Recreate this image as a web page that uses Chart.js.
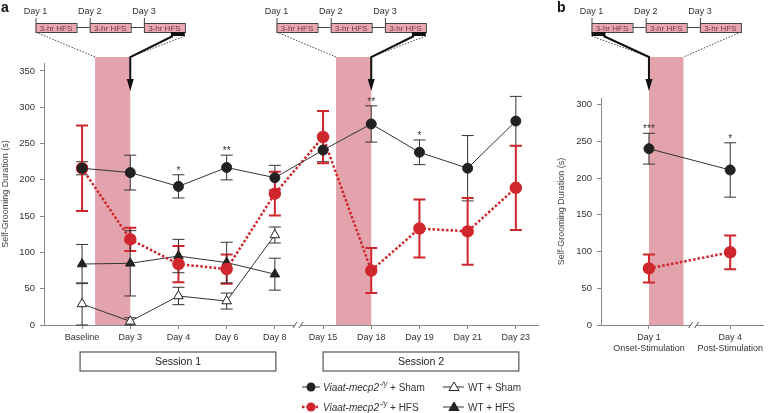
<!DOCTYPE html>
<html>
<head>
<meta charset="utf-8">
<script src="https://cdn.jsdelivr.net/npm/chart.js@4.4.0/dist/chart.umd.min.js"></script>
<style>
  html, body { margin: 0; padding: 0; background: #fff; }
  #wrap { position: relative; width: 771px; height: 413px; }
  #wrap canvas { position: absolute; left: 0; top: 0; }
</style>
</head>
<body>
<div id="wrap">
  <canvas id="chartA" width="771" height="413"></canvas>
  <canvas id="chartB" width="771" height="413"></canvas>
</div>
<script>
// panel a data
const daysA = ['Baseline', 'Day 3', 'Day 4', 'Day 6', 'Day 8', 'Day 15', 'Day 18', 'Day 19', 'Day 21', 'Day 23'];
const koShamA = [216, 210, 191, 217, 203, 241, 277, 238, 216, 281];
const koShamErrA = [9, 24, 16, 17, 17, 16, 25, 17, 45, 34];
const koHfsA = [216, 118, 84, 77, 181, 259, 75, 133, 129, 189];
const koHfsErrA = [59, 16, 25, 20, 30, 36, 31, 40, 46, 58];
const wtShamA = [29, 5, 40, 33, 124];
const wtShamErrA = [29, 5, 12, 11, 11];
const wtHfsA = [84, 85, 95, 86, 70];
const wtHfsErrA = [27, 45, 23, 28, 22];
const starsA = ['', '', '*', '**', '', '', '**', '*', '', ''];
const bandsA = [[0.27, 1], [5.27, 6]];

// panel b data
const daysB = [['Day 1', 'Onset-Stimulation'], ['Day 4', 'Post-Stimulation']];
const koShamB = [240, 211];
const koShamErrB = [21, 37];
const koHfsB = [77, 99];
const koHfsErrB = [19, 23];
const starsB = ['***', '*'];
const bandsB = [[0, 0.425]];

const yTicks = [0, 50, 100, 150, 200, 250, 300, 350];

const FONT = '"Liberation Sans", Arial, Helvetica, sans-serif';
const RED = '#d0262d';
const DARK = '#222';
const PINK = '#e3a3ad';
Chart.defaults.font.family = FONT;
Chart.defaults.color = '#333';

const pts = arr => arr.map((v, i) => ({ x: i, y: v }));

function koSham(data, err) {
  return { data: pts(data), err, errColor: '#333', errWidth: 1,
    borderColor: '#333', borderWidth: 1, pointRadius: 5, pointStyle: 'circle',
    pointBackgroundColor: DARK, pointBorderColor: DARK };
}
function koHfs(data, err) {
  return { data: pts(data), err, errColor: RED, errWidth: 2,
    borderColor: RED, borderWidth: 2.5, borderDash: [2.5, 2], pointRadius: 5, pointStyle: 'circle',
    pointBackgroundColor: RED, pointBorderColor: RED };
}
function wt(data, err, open) {
  return { data: pts(data), err, errColor: '#333', errWidth: 1,
    borderColor: '#333', borderWidth: 1, pointRadius: 5.5, pointStyle: 'triangle',
    pointBackgroundColor: open ? '#fff' : DARK, pointBorderColor: DARK, pointBorderWidth: 1 };
}

// bands + error bars, behind the lines
const behind = {
  id: 'behind',
  beforeDatasetsDraw(chart, args, opts) {
    const ctx = chart.ctx, xs = chart.scales.x, ys = chart.scales.y;
    ctx.save();
    ctx.fillStyle = PINK;
    opts.bands.forEach(b => {
      const l = xs.getPixelForValue(b[0]), r = xs.getPixelForValue(b[1]);
      ctx.fillRect(l, 57, r - l, chart.chartArea.bottom - 57);
    });
    chart.data.datasets.forEach((ds, di) => {
      const meta = chart.getDatasetMeta(di);
      ctx.strokeStyle = ds.errColor;
      ctx.lineWidth = ds.errWidth;
      meta.data.forEach((pt, i) => {
        const v = ds.data[i].y, e = ds.err[i];
        const top = ys.getPixelForValue(v + e), bot = ys.getPixelForValue(Math.max(0, v - e));
        ctx.beginPath();
        ctx.moveTo(pt.x, top); ctx.lineTo(pt.x, bot);
        ctx.moveTo(pt.x - 6, top); ctx.lineTo(pt.x + 6, top);
        ctx.moveTo(pt.x - 6, bot); ctx.lineTo(pt.x + 6, bot);
        ctx.stroke();
      });
    });
    ctx.restore();
  }
};

function drawSchedule(ctx, x0, markAtEnd, bandL, bandR) {
  const step = 54.2, bw = 41, by = 23, bh = 9, top = 57;
  ctx.save();
  ctx.textAlign = 'center';
  ctx.textBaseline = 'middle';
  ctx.strokeStyle = '#444';
  ctx.lineWidth = 1;
  for (let d = 0; d < 3; d++) {
    const bx = x0 + d * step;
    ctx.fillStyle = '#333';
    ctx.font = '9px ' + FONT;
    ctx.fillText('Day ' + (d + 1), bx, 11.5);
    ctx.beginPath(); ctx.moveTo(bx + 0.5, 18); ctx.lineTo(bx + 0.5, by); ctx.stroke();
    ctx.fillStyle = '#e8a7b1';
    ctx.fillRect(bx, by, bw, bh);
    ctx.strokeRect(bx + 0.5, by + 0.5, bw, bh);
    ctx.fillStyle = '#6a3a40';
    ctx.font = '8px ' + FONT;
    ctx.fillText('3-hr HFS', bx + bw / 2, by + bh / 2 + 1);
    if (d < 2) {
      ctx.beginPath(); ctx.moveTo(bx + bw, 27.5); ctx.lineTo(bx + step, 27.5); ctx.stroke();
    }
  }
  const xEnd = x0 + 2 * step + bw;
  const mx = markAtEnd ? xEnd - 14 : x0;
  ctx.fillStyle = '#111';
  ctx.fillRect(mx, by + bh, 14, 4);
  ctx.setLineDash([1.5, 1.5]);
  ctx.strokeStyle = '#444';
  ctx.beginPath();
  ctx.moveTo(x0, by + bh + (markAtEnd ? 0 : 4)); ctx.lineTo(bandL, top);
  ctx.moveTo(xEnd, by + bh + (markAtEnd ? 4 : 0)); ctx.lineTo(bandR, top);
  ctx.stroke();
  ctx.setLineDash([]);
  const ax = markAtEnd ? bandR : bandL;
  ctx.strokeStyle = '#111';
  ctx.lineWidth = 2;
  ctx.beginPath();
  ctx.moveTo(markAtEnd ? mx + 2 : mx + 12, by + bh + 4);
  ctx.lineTo(ax, top);
  ctx.lineTo(ax, top + 24);
  ctx.stroke();
  ctx.fillStyle = '#111';
  ctx.beginPath();
  ctx.moveTo(ax - 3.5, top + 22); ctx.lineTo(ax + 3.5, top + 22); ctx.lineTo(ax, top + 34);
  ctx.closePath(); ctx.fill();
  ctx.restore();
}

function drawBreak(ctx, x, y) {
  ctx.save();
  ctx.fillStyle = '#fff';
  ctx.fillRect(x - 3, y - 2, 6, 4);
  ctx.strokeStyle = '#555';
  ctx.lineWidth = 1;
  ctx.beginPath();
  ctx.moveTo(x - 5, y + 3); ctx.lineTo(x - 1, y - 3);
  ctx.moveTo(x + 1, y + 3); ctx.lineTo(x + 5, y - 3);
  ctx.stroke();
  ctx.restore();
}

function drawStars(chart, stars) {
  const ctx = chart.ctx, ys = chart.scales.y, ds = chart.data.datasets[0];
  const meta = chart.getDatasetMeta(0);
  ctx.save();
  ctx.font = '10px ' + FONT;
  ctx.fillStyle = '#333';
  ctx.textAlign = 'center';
  ctx.textBaseline = 'alphabetic';
  stars.forEach((s, i) => {
    if (!s) return;
    const capY = ys.getPixelForValue(ds.data[i].y + ds.err[i]);
    ctx.fillText(s, meta.data[i].x, capY - 1);
  });
  ctx.restore();
}

function koLabel(ctx, x, y, tail) {
  ctx.font = 'italic 10px ' + FONT;
  ctx.fillText('Viaat-mecp2', x, y);
  let w = ctx.measureText('Viaat-mecp2').width;
  ctx.font = 'italic 7px ' + FONT;
  ctx.fillText('-/y', x + w + 0.5, y - 4);
  w += ctx.measureText('-/y').width + 0.5;
  ctx.font = '10px ' + FONT;
  ctx.fillText(tail, x + w, y);
}

function triangle(ctx, x, y, open) {
  ctx.beginPath();
  ctx.moveTo(x, y - 5); ctx.lineTo(x + 5, y + 3.5); ctx.lineTo(x - 5, y + 3.5);
  ctx.closePath();
  ctx.fillStyle = open ? '#fff' : DARK;
  ctx.fill();
  ctx.strokeStyle = DARK;
  ctx.lineWidth = 1;
  ctx.stroke();
}

function drawLegend(ctx) {
  const r1 = 387, r2 = 407;
  ctx.save();
  ctx.textBaseline = 'middle';
  ctx.fillStyle = '#333';
  // ko sham
  ctx.strokeStyle = '#333'; ctx.lineWidth = 1;
  ctx.beginPath(); ctx.moveTo(302, r1); ctx.lineTo(320, r1); ctx.stroke();
  ctx.fillStyle = DARK; ctx.beginPath(); ctx.arc(311, r1, 4.5, 0, Math.PI * 2); ctx.fill();
  ctx.fillStyle = '#333'; koLabel(ctx, 323, r1 + 1, ' + Sham');
  // ko hfs
  ctx.strokeStyle = RED; ctx.lineWidth = 2.5; ctx.setLineDash([2.5, 2]);
  ctx.beginPath(); ctx.moveTo(302, r2); ctx.lineTo(320, r2); ctx.stroke();
  ctx.setLineDash([]);
  ctx.fillStyle = RED; ctx.beginPath(); ctx.arc(311, r2, 4.5, 0, Math.PI * 2); ctx.fill();
  ctx.fillStyle = '#333'; koLabel(ctx, 323, r2 + 1, ' + HFS');
  // wt
  [[r1, true, 'WT + Sham'], [r2, false, 'WT + HFS']].forEach(([y, open, t]) => {
    ctx.strokeStyle = '#333'; ctx.lineWidth = 1;
    ctx.beginPath(); ctx.moveTo(443, y); ctx.lineTo(464, y); ctx.stroke();
    triangle(ctx, 454, y, open);
    ctx.fillStyle = '#333';
    ctx.font = '10px ' + FONT;
    ctx.fillText(t, 468, y + 1);
  });
  ctx.restore();
}

function sessionBox(ctx, l, r, text) {
  ctx.save();
  ctx.strokeStyle = '#555';
  ctx.lineWidth = 1.2;
  ctx.strokeRect(l, 352, r - l, 19);
  ctx.fillStyle = '#222';
  ctx.font = '10.5px ' + FONT;
  ctx.textAlign = 'center';
  ctx.textBaseline = 'middle';
  ctx.fillText(text, (l + r) / 2, 362);
  ctx.restore();
}

function panelLetter(ctx, t, x) {
  ctx.save();
  ctx.font = 'bold 14px ' + FONT;
  ctx.fillStyle = '#111';
  ctx.fillText(t, x, 12);
  ctx.restore();
}

const decorA = {
  id: 'decorA',
  afterDraw(chart) {
    const ctx = chart.ctx, xs = chart.scales.x;
    const px = v => xs.getPixelForValue(v);
    drawSchedule(ctx, 35.5, true, px(bandsA[0][0]), px(bandsA[0][1]));
    drawSchedule(ctx, 276.5, true, px(bandsA[1][0]), px(bandsA[1][1]));
    drawBreak(ctx, px(4.48), chart.chartArea.bottom);
    drawStars(chart, starsA);
    sessionBox(ctx, px(0) - 2, px(4) + 1, 'Session 1');
    sessionBox(ctx, px(5), px(9) + 3, 'Session 2');
    drawLegend(ctx);
    panelLetter(ctx, 'a', 1);
  }
};

const decorB = {
  id: 'decorB',
  afterDraw(chart) {
    const ctx = chart.ctx, xs = chart.scales.x;
    const px = v => xs.getPixelForValue(v);
    drawSchedule(ctx, 591.5, false, px(bandsB[0][0]), px(bandsB[0][1]));
    drawBreak(ctx, px(0.55), chart.chartArea.bottom);
    drawStars(chart, starsB);
    panelLetter(ctx, 'b', 557);
  }
};

function axes(labels, xmin, xmax, ymax, yWidth, showTitle) {
  return {
    x: {
      type: 'linear', min: xmin, max: xmax,
      afterBuildTicks: s => { s.ticks = labels.map((l, i) => ({ value: i })); },
      afterFit: s => { s.height = 88; },
      grid: { drawOnChartArea: false, drawTicks: true, tickLength: 4, color: '#888' },
      border: { color: '#888', width: 1 },
      ticks: { callback: v => labels[v], font: { size: 9 }, color: '#333', padding: 3,
               maxRotation: 0, autoSkip: false }
    },
    y: {
      type: 'linear', min: 0, max: ymax,
      afterBuildTicks: s => { s.ticks = yTicks.filter(v => v <= ymax).map(v => ({ value: v })); },
      afterFit: s => { s.width = yWidth; },
      grid: { drawOnChartArea: false, drawTicks: true, tickLength: 4, color: '#888' },
      border: { color: '#888', width: 1 },
      ticks: { font: { size: 9.5 }, color: '#333', padding: 5 },
      title: { display: showTitle, text: 'Self-Grooming Duration (s)', font: { size: 9 },
               color: '#444', padding: { top: 0, bottom: 0 } }
    }
  };
}

const common = {
  responsive: false,
  animation: false,
  plugins: { legend: { display: false }, tooltip: { enabled: false } }
};

new Chart(document.getElementById('chartA'), {
  type: 'line',
  data: {
    datasets: [koSham(koShamA, koShamErrA), koHfs(koHfsA, koHfsErrA),
               wt(wtShamA, wtShamErrA, true), wt(wtHfsA, wtHfsErrA, false)]
  },
  options: Object.assign({}, common, {
    layout: { padding: { top: 63, right: 233, left: 0, bottom: 0 } },
    scales: axes(daysA, -0.79, 9.46, 361, 44, true),
    plugins: Object.assign({}, common.plugins, { behind: { bands: bandsA } })
  }),
  plugins: [behind, decorA]
});

new Chart(document.getElementById('chartB'), {
  type: 'line',
  data: {
    datasets: [koSham(koShamB, koShamErrB), koHfs(koHfsB, koHfsErrB)]
  },
  options: Object.assign({}, common, {
    layout: { padding: { top: 98, right: 1, left: 556, bottom: 0 } },
    scales: axes(daysB, -0.59, 1.41, 309, 45, true),
    plugins: Object.assign({}, common.plugins, { behind: { bands: bandsB } })
  }),
  plugins: [behind, decorB]
});
</script>
</body>
</html>
